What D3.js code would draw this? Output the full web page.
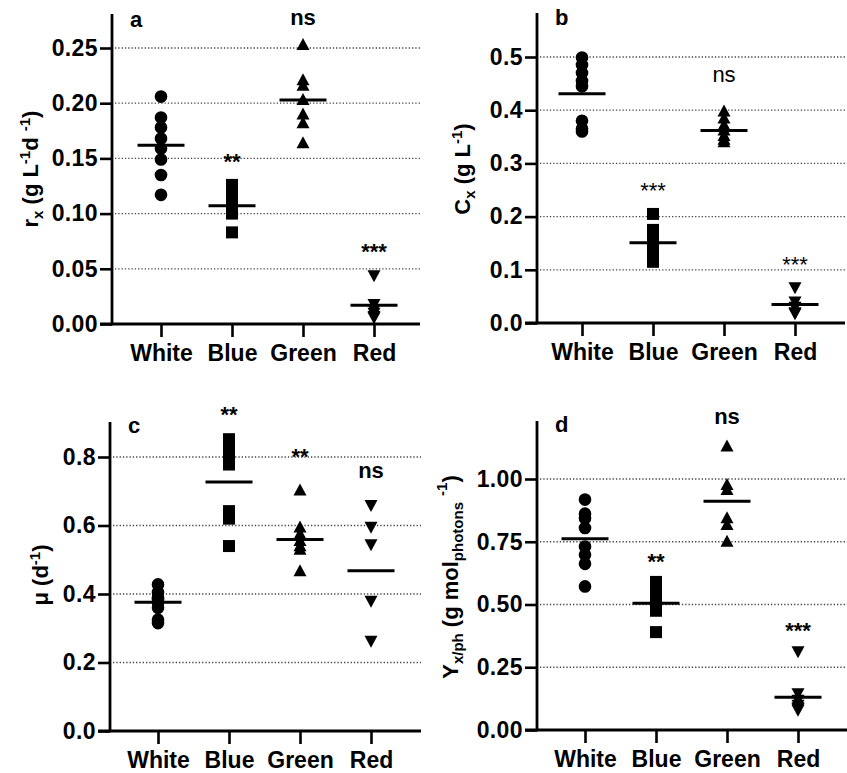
<!DOCTYPE html>
<html>
<head>
<meta charset="utf-8">
<script src="https://cdn.jsdelivr.net/npm/d3@7"></script>
<style>
  html, body { margin: 0; padding: 0; background: #ffffff; }
  svg { display: block; font-family: "Liberation Sans", Arial, sans-serif; }
</style>
</head>
<body>
<svg id="chart" width="847" height="773"></svg>
<script>
const categories = ["White", "Blue", "Green", "Red"];

// Panel a: r_x (g L-1 d-1)
const aWhite = [0.206, 0.187, 0.178, 0.168, 0.159, 0.149, 0.135, 0.117];
const aBlue  = [0.126, 0.120, 0.113, 0.108, 0.104, 0.100, 0.083];
const aGreen = [0.253, 0.221, 0.216, 0.203, 0.190, 0.182, 0.164];
const aRed   = [0.044, 0.018, 0.013, 0.010, 0.007, 0.006];
const aMeans = [0.162, 0.107, 0.203, 0.017];
const aTicks = [0, 0.05, 0.10, 0.15, 0.20, 0.25];
const aSig   = ["", "**", "ns", "***"];

// Panel b: C_x (g L-1)
const bWhite = [0.499, 0.485, 0.470, 0.455, 0.445, 0.380, 0.365, 0.360];
const bBlue  = [0.205, 0.175, 0.165, 0.155, 0.145, 0.135, 0.125, 0.115];
const bGreen = [0.398, 0.385, 0.372, 0.362, 0.352, 0.345, 0.340];
const bRed   = [0.067, 0.040, 0.030, 0.020, 0.018];
const bMeans = [0.431, 0.151, 0.362, 0.035];
const bTicks = [0, 0.1, 0.2, 0.3, 0.4, 0.5];
const bSig   = ["", "***", "ns", "***"];

// Panel c: mu (d-1)
const cWhite = [0.428, 0.405, 0.390, 0.385, 0.375, 0.360, 0.325, 0.315];
const cBlue  = [0.852, 0.830, 0.808, 0.785, 0.778, 0.642, 0.620, 0.540];
const cGreen = [0.703, 0.595, 0.575, 0.555, 0.540, 0.530, 0.467];
const cRed   = [0.659, 0.596, 0.545, 0.380, 0.263];
const cMeans = [0.376, 0.727, 0.559, 0.468];
const cTicks = [0, 0.2, 0.4, 0.6, 0.8];
const cSig   = ["", "**", "**", "ns"];

// Panel d: Y_x/ph (g mol_photons-1)
const dWhite = [0.918, 0.862, 0.844, 0.805, 0.731, 0.698, 0.662, 0.572];
const dBlue  = [0.590, 0.565, 0.540, 0.515, 0.495, 0.475, 0.390];
const dGreen = [1.130, 0.977, 0.957, 0.844, 0.818, 0.751];
const dRed   = [0.3125, 0.146, 0.120, 0.100, 0.090, 0.086, 0.080];
const dMeans = [0.762, 0.505, 0.911, 0.130];
const dTicks = [0, 0.25, 0.50, 0.75, 1.00];
const dSig   = ["", "**", "ns", "***"];

const svg = d3.select("#chart");
const shapes = ["circle", "square", "triangle", "triangleDown"];

function markerPath(shape) {
  if (shape === "circle") return d3.symbol().type(d3.symbolCircle).size(Math.PI * 40)();
  if (shape === "square") return "M-6,-6H6V6H-6Z";
  if (shape === "triangle") return "M0,-6.8L6.5,5.2L-6.5,5.2Z";
  return "M0,6.8L6.5,-5.2L-6.5,-5.2Z";
}

function panel(cfg) {
  const g = svg.append("g");
  const y = d3.scaleLinear().domain([0, cfg.yMax]).range([cfg.y0, cfg.yTop]);
  const x = d3.scalePoint().domain(categories)
    .range([cfg.ax + cfg.xOff, cfg.ax + cfg.xOff + 213]);

  // gridlines
  g.selectAll("line.grid").data(cfg.ticks.filter(t => t > 0)).enter()
    .append("line")
    .attr("x1", cfg.ax + 3).attr("x2", cfg.right)
    .attr("y1", d => y(d)).attr("y2", d => y(d))
    .attr("stroke", "#444").attr("stroke-width", 1.3)
    .attr("stroke-dasharray", "1.3,2");

  // y axis
  const yAxis = d3.axisLeft(y).tickValues(cfg.ticks).tickFormat(d3.format(cfg.fmt))
    .tickSize(12).tickPadding(2);
  const ya = g.append("g").attr("transform", `translate(${cfg.ax},0)`).call(yAxis);
  ya.select(".domain").remove();
  ya.selectAll(".tick line").attr("stroke", "#000").attr("stroke-width", 2.6);
  ya.selectAll(".tick text").attr("fill", "#000").attr("font-size", 23)
    .attr("font-weight", "bold").attr("font-family", "Liberation Sans, Arial, sans-serif")
    .attr("letter-spacing", 0.4);
  g.append("line").attr("x1", cfg.ax).attr("x2", cfg.ax)
    .attr("y1", cfg.yTop).attr("y2", cfg.y0 + 1.3)
    .attr("stroke", "#000").attr("stroke-width", 2.8);

  // x axis
  const xAxis = d3.axisBottom(x).tickSize(13).tickPadding(8);
  const xa = g.append("g").attr("transform", `translate(0,${cfg.y0})`).call(xAxis);
  xa.select(".domain").remove();
  xa.selectAll(".tick line").attr("stroke", "#000").attr("stroke-width", 2.6);
  xa.selectAll(".tick text").attr("fill", "#000").attr("font-size", 23)
    .attr("font-weight", "bold").attr("font-family", "Liberation Sans, Arial, sans-serif");
  g.append("line").attr("x1", cfg.ax - 12).attr("x2", cfg.right)
    .attr("y1", cfg.y0).attr("y2", cfg.y0)
    .attr("stroke", "#000").attr("stroke-width", 2.8);

  // points
  cfg.series.forEach((vals, i) => {
    const cat = categories[i];
    g.selectAll(null).data(vals).enter().append("path")
      .attr("d", markerPath(shapes[i]))
      .attr("transform", d => `translate(${x(cat)},${y(d)})`)
      .attr("fill", "#000");
  });

  // mean lines
  g.selectAll("line.mean").data(cfg.means).enter().append("line")
    .attr("x1", (d, i) => x(categories[i]) - 23.5)
    .attr("x2", (d, i) => x(categories[i]) + 23.5)
    .attr("y1", d => y(d)).attr("y2", d => y(d))
    .attr("stroke", "#000").attr("stroke-width", 3);

  // significance labels
  cfg.sig.forEach((s, i) => {
    if (!s) return;
    g.append("text").attr("x", x(categories[i]))
      .attr("y", cfg.sigY[i])
      .attr("text-anchor", "middle").attr("font-size", 22)
      .attr("font-weight", cfg.sigBold ? "bold" : "normal")
      .attr("fill", "#000").text(s);
  });

  // panel letter
  g.append("text").attr("x", cfg.ax + 18).attr("y", cfg.letterY)
    .attr("font-size", 22).attr("font-weight", "bold").attr("fill", "#000").text(cfg.letter);

  // y title
  const t = g.append("text")
    .attr("transform", `translate(${cfg.titleX},${cfg.titleY}) rotate(-90)`)
    .attr("text-anchor", "middle").attr("font-size", 22).attr("font-weight", "bold")
    .attr("fill", "#000");
  cfg.title.forEach(p => {
    const ts = t.append("tspan").text(p.t);
    if (p.sub || p.sup) ts.attr("font-size", 15);
    if (p.dy) ts.attr("dy", p.dy);
  });
}

panel({
  letter: "a", ax: 112, xOff: 49, right: 420, y0: 324, yTop: 14,
  yMax: (324 - 14) / 1104, ticks: aTicks, fmt: ".2f",
  series: [aWhite, aBlue, aGreen, aRed], means: aMeans,
  sig: aSig, sigY: [0, 169, 25, 259], sigBold: true, letterY: 27,
  titleX: 38, titleY: 169,
  title: [{t: "r"}, {t: "x", sub: true, dy: 5}, {t: " (g L", dy: -5},
          {t: "-1", sup: true, dy: -8}, {t: "d ", dy: 8}, {t: "-1", sup: true, dy: -8},
          {t: ")", dy: 8}]
});

panel({
  letter: "b", ax: 537, xOff: 45, right: 845, y0: 323, yTop: 13,
  yMax: (323 - 13) / 532, ticks: bTicks, fmt: ".1f",
  series: [bWhite, bBlue, bGreen, bRed], means: bMeans,
  sig: bSig, sigY: [0, 198, 82, 272], sigBold: false, letterY: 25,
  titleX: 470, titleY: 169,
  title: [{t: "C"}, {t: "x", sub: true, dy: 5}, {t: " (g L", dy: -5},
          {t: "-1", sup: true, dy: -8}, {t: ")", dy: 8}]
});

panel({
  letter: "c", ax: 110, xOff: 48, right: 421, y0: 731, yTop: 422,
  yMax: (731 - 422) / 342.5, ticks: cTicks, fmt: ".1f",
  series: [cWhite, cBlue, cGreen, cRed], means: cMeans,
  sig: cSig, sigY: [0, 422, 464, 478], sigBold: true, letterY: 433,
  titleX: 48, titleY: 575,
  title: [{t: "μ (d"}, {t: "-1", sup: true, dy: -8}, {t: ")", dy: 8}]
});

panel({
  letter: "d", ax: 537, xOff: 48, right: 847, y0: 730, yTop: 421,
  yMax: (730 - 421) / 251, ticks: dTicks, fmt: ".2f",
  series: [dWhite, dBlue, dGreen, dRed], means: dMeans,
  sig: dSig, sigY: [0, 569, 424, 638], sigBold: true, letterY: 432,
  titleX: 458, titleY: 577,
  title: [{t: "Y"}, {t: "x/ph", sub: true, dy: 5}, {t: " (g mol", dy: -5},
          {t: "photons", sub: true, dy: 5}, {t: " "}, {t: "-1", sup: true, dy: -16},
          {t: ")", dy: 11}]
});
</script>
</body>
</html>
